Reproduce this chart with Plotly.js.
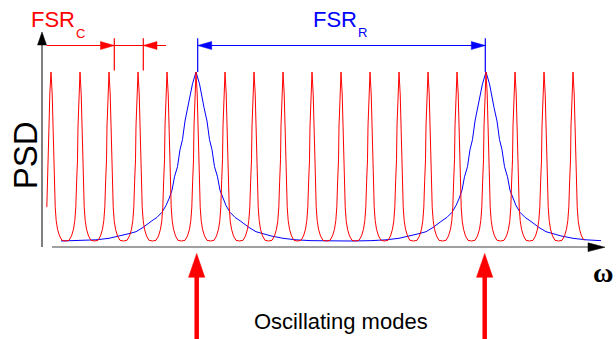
<!DOCTYPE html>
<html>
<head>
<meta charset="utf-8">
<script src="https://cdn.plot.ly/plotly-3.0.1.min.js"></script>
<style>html,body{margin:0;padding:0;background:#fff;}#chart{width:616px;height:339px;}</style>
</head>
<body>
<div id="chart"></div>
<script>
// ---- data (frequency in units of the comb spacing FSR_C, PSD normalised to peak = 1) ----
const redPeakCenters = [0, 1, 2, 3, 4, 5, 6, 7, 8, 9, 10, 11, 12, 13, 14, 15, 16, 17, 18];
const redProfileOffsets = [0, 0.041, 0.069, 0.086, 0.114, 0.145, 0.179, 0.224, 0.293, 0.379, 0.5];
const redProfileValues  = [1, 0.87, 0.68, 0.48, 0.36, 0.2, 0.12, 0.07, 0.03, 0.004, 0];
const redRange = [-0.15, 18.42];

const bluePeakCenters = [5, 15];
const blueProfileOffsets = [0, 0.121, 0.276, 0.379, 0.466, 0.552, 0.638, 0.741, 0.828, 0.931, 1.034, 1.172, 1.345, 1.517, 1.828, 2.069, 2.276, 2.586, 3.0, 3.448, 3.966, 4.655, 4.983];
const blueProfileValues  = [1, 0.93, 0.79, 0.71, 0.6, 0.54, 0.44, 0.38, 0.3, 0.25, 0.21, 0.17, 0.14, 0.12, 0.08, 0.055, 0.045, 0.03, 0.016, 0.007, 0.002, 0, 0];
const blueRange = [0.34, 18.98];

const labelFSRC = ['FSR', 'C'];
const labelFSRR = ['FSR', 'R'];
const labelY = 'PSD';
const labelX = 'ω';
const labelModes = 'Oscillating modes';

// ---- build curve tables from the profiles ----
function buildCurve(centers, offs, vals, range) {
  const full = [];
  for (let i = offs.length - 1; i > 0; i--) full.push([-offs[i], vals[i]]);
  for (let i = 0; i < offs.length; i++) full.push([offs[i], vals[i]]);
  const xs = [], ys = [];
  centers.forEach(c => {
    full.forEach(([o, v]) => {
      const x = c + o;
      if (x < range[0] || x > range[1]) return;
      let nearest = centers[0];
      centers.forEach(cc => { if (Math.abs(x - cc) < Math.abs(x - nearest)) nearest = cc; });
      if (nearest !== c && Math.abs(x - nearest) < Math.abs(x - c)) return;
      if (xs.length && x <= xs[xs.length - 1] + 1e-9) return;
      xs.push(x); ys.push(v);
    });
  });
  return {x: xs, y: ys};
}
const red = buildCurve(redPeakCenters, redProfileOffsets, redProfileValues, redRange);
const blue = buildCurve(bluePeakCenters, blueProfileOffsets, blueProfileValues, blueRange);

// ---- pixel helpers for the decorations ----
const X = px => (px - 51) / 29;
const Y = py => (241 - py) / 169;
const W = 616, H = 339;

function line(x0, y0, x1, y1, color, width) {
  return {type: 'line', xref: 'x', yref: 'y', x0: X(x0), y0: Y(y0), x1: X(x1), y1: Y(y1),
          line: {color: color, width: width}};
}
function tri(pts, color) {
  const p = pts.map((q, i) => (i ? 'L' : 'M') + X(q[0]) + ',' + Y(q[1])).join(' ') + ' Z';
  return {type: 'path', xref: 'x', yref: 'y', path: p, fillcolor: color, line: {color: color, width: 0.5}};
}

const RED = '#ff0000', BLUE = '#0000ff';
const shapes = [
  // y axis
  line(42, 247, 42, 44, '#000', 1),
  tri([[37.5, 45], [46.5, 45], [42, 32]], '#000'),
  // x axis
  line(52, 247, 590, 247, '#808080', 1.6),
  tri([[588, 242.8], [588, 251.6], [605, 247.2]], '#000'),
  // FSR_C marker
  line(46.5, 45.5, 166, 45.5, RED, 1.2),
  tri([[100.5, 41.5], [100.5, 49.5], [114.3, 45.5]], RED),
  tri([[157, 41.5], [157, 49.5], [143.3, 45.5]], RED),
  line(114.3, 38.3, 114.3, 70.5, RED, 1.2),
  line(143.3, 38.3, 143.3, 70.5, RED, 1.2),
  // FSR_R marker
  line(197.7, 45.5, 485.3, 45.5, BLUE, 1.2),
  tri([[211.7, 41.5], [211.7, 49.5], [197.7, 45.5]], BLUE),
  tri([[471.3, 41.5], [471.3, 49.5], [485.3, 45.5]], BLUE),
  line(197.7, 38.3, 197.7, 72, BLUE, 1.2),
  line(485.3, 38.3, 485.3, 72, BLUE, 1.2),
  // oscillating mode arrows
  line(196.7, 342, 196.7, 275, RED, 4.5),
  tri([[188.5, 277.3], [204.8, 277.3], [196.7, 253.5]], RED),
  line(484.7, 342, 484.7, 275, RED, 4.5),
  tri([[476.5, 277.3], [492.8, 277.3], [484.7, 253.5]], RED)
];

const SANS = 'Liberation Sans, Arial, sans-serif';
function ann(text, px, py, size, color, xa, ya, extra) {
  return Object.assign({text: text, xref: 'x', yref: 'y', x: X(px), y: Y(py), showarrow: false,
    xanchor: xa, yanchor: ya, borderpad: 0,
    font: {family: SANS, size: size, color: color}}, extra || {});
}
const annotations = [
  ann(labelFSRC[0], 30, 19.2, 22, RED, 'left', 'middle'),
  ann(labelFSRC[1], 75.3, 33, 13, RED, 'left', 'middle'),
  ann(labelFSRR[0], 311.6, 19.4, 22, BLUE, 'left', 'middle'),
  ann(labelFSRR[1], 357.3, 32.8, 13, BLUE, 'left', 'middle'),
  ann(labelY, 25.8, 155.5, 33, '#000', 'center', 'middle', {textangle: -90}),
  Object.assign(ann(labelX, 602.5, 272, 28, '#000', 'center', 'middle'),
    {font: {family: 'Liberation Serif, Times New Roman, serif', size: 28, color: '#000', weight: 'bold'}}),
  ann(labelModes, 340.8, 321.3, 22, '#000', 'center', 'middle')
];

const traces = [
  {type: 'scatter', mode: 'lines', x: blue.x, y: blue.y, line: {color: BLUE, width: 1}, hoverinfo: 'skip'},
  {type: 'scatter', mode: 'lines', x: red.x, y: red.y, line: {color: RED, width: 1}, hoverinfo: 'skip'}
];

const layout = {
  width: W, height: H,
  margin: {l: 0, r: 0, t: 0, b: 0, pad: 0},
  paper_bgcolor: '#fff', plot_bgcolor: '#fff',
  showlegend: false,
  xaxis: {range: [X(0), X(W)], visible: false, fixedrange: true},
  yaxis: {range: [Y(H), Y(0)], visible: false, fixedrange: true},
  shapes: shapes,
  annotations: annotations
};

Plotly.newPlot('chart', traces, layout, {staticPlot: true, displayModeBar: false});
</script>
</body>
</html>
